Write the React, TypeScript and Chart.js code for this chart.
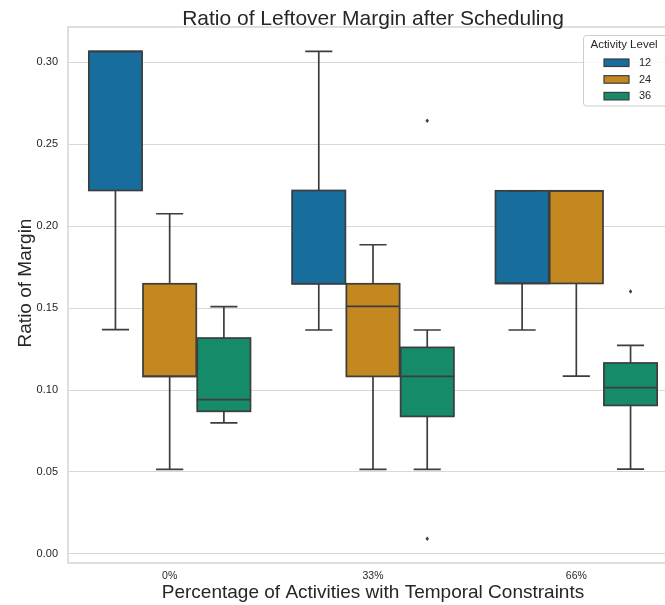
import React, { useEffect, useRef } from 'react';
import { Chart, registerables } from 'chart.js';

Chart.register(...registerables);

// ---- data ----
const categories = ['0%', '33%', '66%'];
const levels = ['12', '24', '36'];
const levelColors = ['#176D9C', '#C38820', '#168B6A'];

// Activity level 12
const q1Level12 = [0.2217, 0.1648, 0.165];
const q3Level12 = [0.3065, 0.2217, 0.2215];
const medLevel12 = [0.3065, 0.1648, 0.165];
const lowLevel12 = [0.1368, 0.1366, 0.1366];
const highLevel12 = [0.3065, 0.3065, 0.2215];
const outLevel12: number[][] = [[], [], []];

// Activity level 24
const q1Level24 = [0.1083, 0.1083, 0.165];
const q3Level24 = [0.1648, 0.1648, 0.2215];
const medLevel24 = [0.1083, 0.151, 0.2215];
const lowLevel24 = [0.0516, 0.0516, 0.1085];
const highLevel24 = [0.2075, 0.1886, 0.2215];
const outLevel24: number[][] = [[], [], []];

// Activity level 36
const q1Level36 = [0.087, 0.0839, 0.0906];
const q3Level36 = [0.1317, 0.126, 0.1165];
const medLevel36 = [0.0941, 0.1083, 0.1014];
const lowLevel36 = [0.0799, 0.0516, 0.0518];
const highLevel36 = [0.1508, 0.1366, 0.1272];
const outLevel36: number[][] = [[], [0.2642, 0.0093], [0.1601]];

const yMin = -0.0055;
const yMax = 0.3214;

const TITLE = 'Ratio of Leftover Margin after Scheduling';
const X_TITLE = 'Percentage of Activities with Temporal Constraints';
const Y_TITLE = 'Ratio of Margin';
const LEGEND_TITLE = 'Activity Level';

const FONT = '"Liberation Sans", Arial, Helvetica, sans-serif';
const TEXT = '#262626';
const LINE = '#3d3d3d';

const stats = [
  { q1: q1Level12, q3: q3Level12, med: medLevel12, lo: lowLevel12, hi: highLevel12, out: outLevel12 },
  { q1: q1Level24, q3: q3Level24, med: medLevel24, lo: lowLevel24, hi: highLevel24, out: outLevel24 },
  { q1: q1Level36, q3: q3Level36, med: medLevel36, lo: lowLevel36, hi: highLevel36, out: outLevel36 },
];

const framePlugin = {
  id: 'frame',
  beforeDatasetsDraw(chart: any) {
    const { ctx, chartArea: a } = chart;
    ctx.save();
    ctx.strokeStyle = '#cccccc';
    ctx.lineWidth = 1.25;
    ctx.strokeRect(a.left, a.top, a.right - a.left, a.bottom - a.top);
    ctx.restore();
  },
};

const boxPlugin = {
  id: 'boxWhiskers',
  afterDatasetsDraw(chart: any) {
    const { ctx } = chart;
    const y = chart.scales.y;
    ctx.save();
    ctx.strokeStyle = LINE;
    ctx.fillStyle = LINE;
    ctx.lineWidth = 1.7;
    stats.forEach((s, i) => {
      const meta = chart.getDatasetMeta(i);
      meta.data.forEach((bar: any, j: number) => {
        const { x, width } = bar.getProps(['x', 'width'], true);
        const half = width / 2;
        const capHalf = width / 4;
        const pq1 = y.getPixelForValue(s.q1[j]);
        const pq3 = y.getPixelForValue(s.q3[j]);
        const plo = y.getPixelForValue(s.lo[j]);
        const phi = y.getPixelForValue(s.hi[j]);
        const pmed = y.getPixelForValue(s.med[j]);
        ctx.beginPath();
        // whiskers
        ctx.moveTo(x, pq1);
        ctx.lineTo(x, plo);
        ctx.moveTo(x - capHalf, plo);
        ctx.lineTo(x + capHalf, plo);
        ctx.moveTo(x, pq3);
        ctx.lineTo(x, phi);
        ctx.moveTo(x - capHalf, phi);
        ctx.lineTo(x + capHalf, phi);
        // median
        ctx.moveTo(x - half, pmed);
        ctx.lineTo(x + half, pmed);
        ctx.stroke();
        // box outline
        ctx.strokeRect(x - half + 0.5, pq3, width - 1, pq1 - pq3);
        // fliers
        s.out[j].forEach((v) => {
          const py = y.getPixelForValue(v);
          ctx.beginPath();
          ctx.moveTo(x, py - 2.2);
          ctx.lineTo(x + 1.7, py);
          ctx.lineTo(x, py + 2.2);
          ctx.lineTo(x - 1.7, py);
          ctx.closePath();
          ctx.fill();
        });
      });
    });
    ctx.restore();
  },
};

const textPlugin = {
  id: 'textAndLegend',
  afterDraw(chart: any) {
    const { ctx, chartArea: a } = chart;
    ctx.save();
    // title
    ctx.fillStyle = TEXT;
    ctx.font = `21px ${FONT}`;
    ctx.textAlign = 'center';
    ctx.textBaseline = 'alphabetic';
    ctx.fillText(TITLE, (a.left + a.right) / 2, 25);

    // y axis title
    ctx.save();
    ctx.translate(25.5, 283);
    ctx.rotate(-Math.PI / 2);
    ctx.font = `19px ${FONT}`;
    ctx.textAlign = 'center';
    ctx.textBaseline = 'middle';
    ctx.fillText(Y_TITLE, 0, 0);
    ctx.restore();

    // legend
    const lx = 583.5;
    const ly = 35.5;
    const lw = 110;
    const lh = 70.5;
    const r = 3;
    ctx.beginPath();
    ctx.moveTo(lx + r, ly);
    ctx.lineTo(lx + lw - r, ly);
    ctx.arcTo(lx + lw, ly, lx + lw, ly + r, r);
    ctx.lineTo(lx + lw, ly + lh - r);
    ctx.arcTo(lx + lw, ly + lh, lx + lw - r, ly + lh, r);
    ctx.lineTo(lx + r, ly + lh);
    ctx.arcTo(lx, ly + lh, lx, ly + lh - r, r);
    ctx.lineTo(lx, ly + r);
    ctx.arcTo(lx, ly, lx + r, ly, r);
    ctx.closePath();
    ctx.fillStyle = 'rgba(255,255,255,0.85)';
    ctx.fill();
    ctx.strokeStyle = '#cccccc';
    ctx.lineWidth = 1;
    ctx.stroke();

    ctx.fillStyle = TEXT;
    ctx.textAlign = 'left';
    ctx.textBaseline = 'middle';
    ctx.font = `11.5px ${FONT}`;
    ctx.fillText(LEGEND_TITLE, 590.5, 44.5);
    const rows = [62.5, 79.2, 95.9];
    levels.forEach((lab, i) => {
      const cy = rows[i];
      ctx.fillStyle = levelColors[i];
      ctx.fillRect(604, cy - 3.5, 25, 7.5);
      ctx.strokeStyle = LINE;
      ctx.lineWidth = 1.2;
      ctx.strokeRect(604, cy - 3.5, 25, 7.5);
      ctx.fillStyle = TEXT;
      ctx.font = `11px ${FONT}`;
      ctx.fillText(lab, 639, cy + 0.5);
    });
    ctx.restore();
  },
};

export default function App() {
  const ref = useRef<HTMLCanvasElement | null>(null);

  useEffect(() => {
    if (!ref.current) return;
    const datasets = stats.map((s, i) => ({
      label: levels[i],
      data: s.q1.map((v, j) => [v, s.q3[j]]),
      backgroundColor: levelColors[i],
      borderWidth: 0,
      borderSkipped: false,
      categoryPercentage: 0.8,
      barPercentage: 1.0,
    }));
    const chart = new Chart(ref.current, {
      type: 'bar',
      data: { labels: categories, datasets: datasets as any },
      options: {
        animation: false,
        responsive: false,
        devicePixelRatio: 1,
        layout: { padding: { left: 0, right: 2, top: 27, bottom: 0 } },
        plugins: {
          legend: { display: false },
          tooltip: { enabled: false },
          title: { display: false },
        },
        scales: {
          x: {
            type: 'category',
            grid: { display: false, drawTicks: false },
            border: { display: false },
            ticks: { color: TEXT, font: { family: FONT, size: 10.5 }, padding: 7, maxRotation: 0 },
            title: {
              display: true,
              text: X_TITLE,
              color: TEXT,
              font: { family: FONT, size: 19 },
              padding: { top: 0, bottom: 1 },
            },
            afterFit: (s: any) => {
              s.height = 42;
            },
          },
          y: {
            type: 'linear',
            min: yMin,
            max: yMax,
            grid: { color: '#d8d8d8', lineWidth: 1, drawTicks: false },
            border: { display: false },
            ticks: {
              stepSize: 0.05,
              includeBounds: false,
              color: TEXT,
              font: { family: FONT, size: 11 },
              padding: 10,
              callback: (v: any) => Number(v).toFixed(2),
            },
            title: { display: false },
            afterFit: (s: any) => {
              s.width = 68;
            },
          },
        },
      },
      plugins: [framePlugin, boxPlugin, textPlugin],
    });
    return () => chart.destroy();
  }, []);

  return (
    <div
      style={{
        position: 'fixed',
        left: 0,
        top: 0,
        width: 665,
        height: 605,
        overflow: 'hidden',
        background: '#ffffff',
      }}
    >
      <canvas ref={ref} width={680} height={605} style={{ display: 'block', width: 680, height: 605 }} />
    </div>
  );
}
